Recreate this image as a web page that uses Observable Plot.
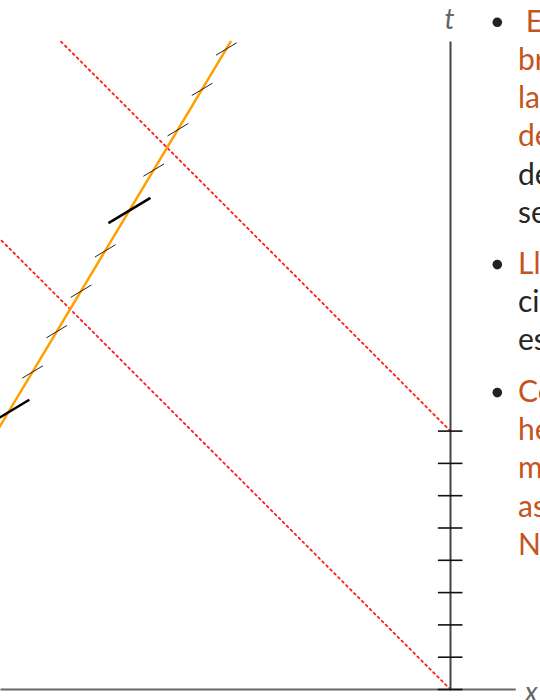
<!DOCTYPE html>
<html><head><meta charset="utf-8">
<script src="https://cdn.jsdelivr.net/npm/d3@7"></script>
<script src="https://cdn.jsdelivr.net/npm/@observablehq/plot@0.6"></script>
<style>
html,body{margin:0;padding:0;background:#fff;overflow:hidden;width:540px;height:700px;}
#wrap{position:relative;width:540px;height:700px;overflow:hidden;}
#wrap svg{position:absolute;left:0;top:0;}
</style></head><body><div id="wrap"></div>
<script>
// ---- data ----
const tAxisTicks = [0, 1, 2, 3, 4, 5, 6, 7, 8];
const lightSignalLower = [{x: 0, t: 0}, {x: -14.5, t: 14.5}];
const lightSignalUpper = [{x: 0, t: 8}, {x: -12.1, t: 20.1}];
const worldline = [{x: -15.0, t: 6.4}, {x: -6.81, t: 20.05}];
const properTickT = [8.58, 9.83, 11.08, 12.33, 13.58, 14.83, 16.08, 17.33, 18.58, 19.83];
const properTickX = [-13.69, -12.94, -12.19, -11.44, -10.69, -9.94, -9.19, -8.44, -7.69, -6.94];
const majorTickT = [8.58, 14.83];
const majorTickX = [-13.69, -9.94];
const axisLabels = [{label: "t", x: -0.03, t: 20.73}, {label: "x", x: 2.5, t: -0.12}];
const tAxisTop = 20.06;
const xAxisRight = 2.02;
const frameX = [-13.932, 2.786];
const frameT = [-0.3406, 21.331];

const para1 = [[" Eventos: la nave emite", "o"], ["brillos periódicos según", "o"], ["la lectura de su reloj", "o"], ["de a bordo (marcas)", "o"], ["de tiempo propio", "k"], ["separadas por Δτ = 1.", "k"]];
const para2 = [["Llegada de las emisio-", "o"], ["ciones al observador", "k"], ["espaciadas en t", "k"]];
const para3 = [["Con velocidad v = 0,6c:", "o"], ["hecho de que las señales", "o"], ["mientras la nave se aleja", "o"], ["así tardan más en llegar", "o"], ["Nota: efecto Doppler", "o"]];

// ---- chart ----
const ticks = properTickT.map((t, i) => ({t, x: properTickX[i]}));
const majors = majorTickT.map((t, i) => ({t, x: majorTickX[i]}));
const sx = 0.32, sxMaj = 0.65, slope = 0.6;

const chart = Plot.plot({
  width: 540, height: 700,
  marginLeft: 0, marginRight: 0, marginTop: 0, marginBottom: 0,
  x: {domain: frameX, axis: null},
  y: {domain: frameT, axis: null},
  style: {background: "transparent"},
  marks: [
    Plot.line(lightSignalLower, {x: "x", y: "t", stroke: "#ff1a1a", strokeWidth: 1.8, strokeDasharray: "2,3.6", clip: true}),
    Plot.line(lightSignalUpper, {x: "x", y: "t", stroke: "#ff1a1a", strokeWidth: 1.8, strokeDasharray: "2,3.6", clip: true}),
    Plot.line(worldline, {x: "x", y: "t", stroke: "#ffa000", strokeWidth: 2.5, clip: true}),
    Plot.link(ticks, {x1: d => d.x - sx, x2: d => d.x + sx, y1: d => d.t - slope * sx, y2: d => d.t + slope * sx, stroke: "#222", strokeWidth: 1, clip: true}),
    Plot.link(majors, {x1: d => d.x - sxMaj, x2: d => d.x + sxMaj, y1: d => d.t - slope * sxMaj, y2: d => d.t + slope * sxMaj, stroke: "#000", strokeWidth: 2.5, clip: true}),
    Plot.link([0], {x1: () => frameX[0], x2: () => xAxisRight, y1: () => 0, y2: () => 0, stroke: "#666", strokeWidth: 2}),
    Plot.link([0], {x1: () => 0, x2: () => 0, y1: () => 0, y2: () => tAxisTop, stroke: "#444", strokeWidth: 2}),
    Plot.link(tAxisTicks, {x1: () => -0.39, x2: () => 0.37, y1: d => d, y2: d => d, stroke: "#111", strokeWidth: 1.6}),
    Plot.text(axisLabels, {x: "x", y: "t", text: "label", fontStyle: "italic", fontSize: 28, fill: "#666", fontFamily: "Lato"})
  ]
});
document.getElementById("wrap").appendChild(chart);

// ---- side text ----
const side = d3.create("svg").attr("width", 540).attr("height", 700);
const colors = {o: "#c4551e", k: "#262626"};
const paras = [{lines: para1, base: 31.7}, {lines: para2, base: 274}, {lines: para3, base: 402}];
const lh = 38.2;
paras.forEach(p => {
  side.append("circle").attr("cx", 497.3).attr("cy", p.base - 9.4).attr("r", 4.8).attr("fill", "#222");
  p.lines.forEach(([txt, c], i) => {
    side.append("text").attr("x", 518).attr("y", p.base + i * lh)
      .attr("font-family", "Lato").attr("font-size", 30).attr("fill", colors[c])
      .attr("xml:space", "preserve").style("white-space", "pre").text(txt);
  });
});
document.getElementById("wrap").appendChild(side.node());
</script></body></html>
